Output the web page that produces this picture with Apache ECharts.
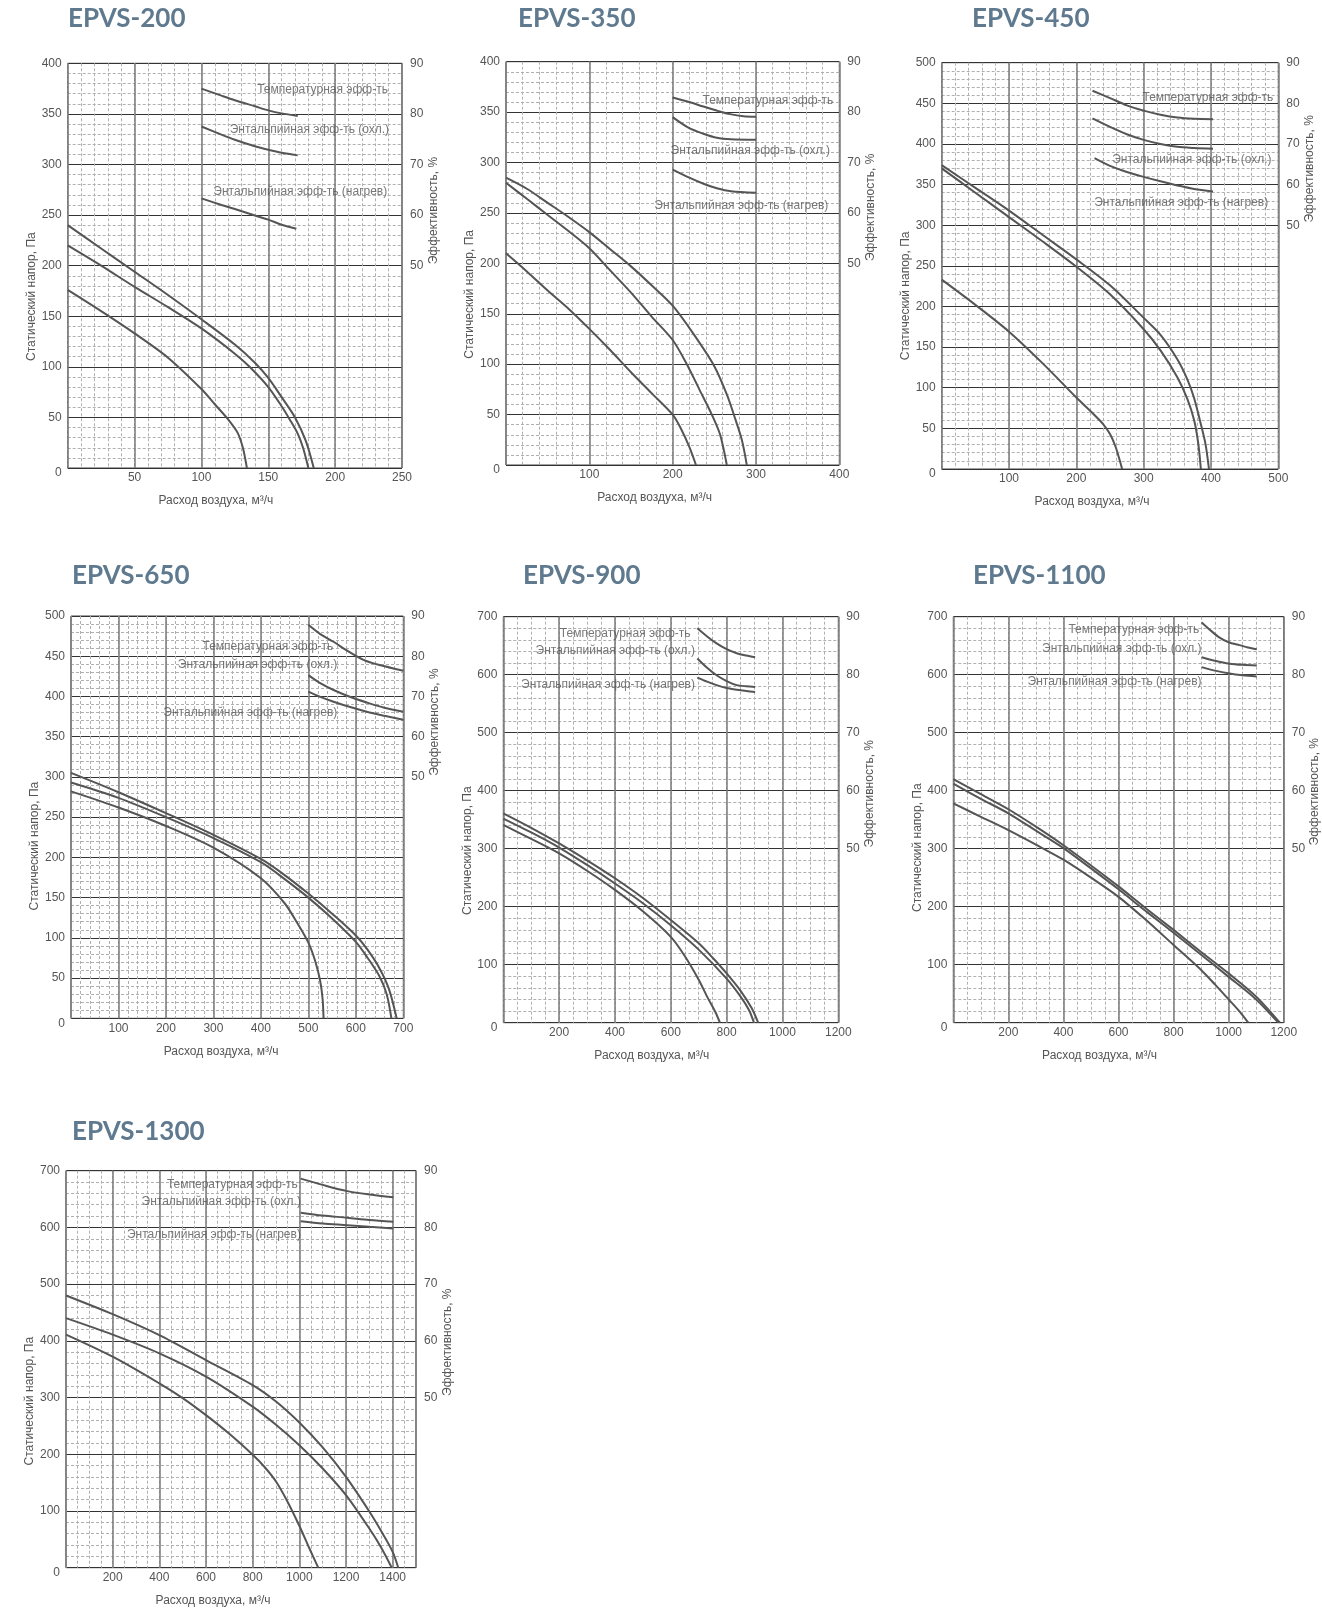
<!DOCTYPE html>
<html><head><meta charset="utf-8">
<script src="https://cdn.jsdelivr.net/npm/echarts@6/dist/echarts.min.js"></script>
<style>html,body{margin:0;padding:0;background:#fff}#c{width:1322px;height:1608px}</style>
</head><body><div id="c"></div>
<script>
// ---------- DATA ----------
const TITLES = ['EPVS-200','EPVS-350','EPVS-450','EPVS-650','EPVS-900','EPVS-1100','EPVS-1300'];
const ANN_TEXT = ['Температурная эфф-ть','Энтальпийная эфф-ть (охл.)','Энтальпийная эфф-ть (нагрев)'];
const X_NAME = 'Расход воздуха, м³/ч';
const Y_NAME = 'Статический напор, Па';
const R_NAME = 'Эффективность, %';

// EPVS-200  [air flow m3/h, static pressure Pa]
const FAN_200_A = [[0,240],[25,217],[50,194],[75,171],[100,147],[125,122],[140,104],[150,89],[160,70],[170,50],[178,27],[184,0]];
const FAN_200_B = [[0,220],[25,200],[50,179],[75,159],[100,138],[125,113],[136,100],[150,80],[160,61],[166,48],[172,34],[176,20],[180,0]];
const FAN_200_C = [[0,176],[25,155],[50,133],[75,109],[100,78],[110,63],[120,48],[127,35],[131,20],[134,0]];
// efficiency [air flow, %]
const EFF_200_T = [[100,85],[115,83.6],[125,82.7],[140,81.5],[150,80.7],[160,80.1],[172,79.6]];
const EFF_200_C = [[100,77.5],[115,75.9],[125,74.9],[140,73.6],[150,72.9],[160,72.3],[172,71.8]];
const EFF_200_H = [[100,63.3],[115,62],[125,61.2],[140,59.9],[150,59.1],[160,58.1],[171,57.3]];

// EPVS-350
const FAN_350_A = [[0,285],[25,274],[50,260],[75,246],[100,231],[125,214],[150,197],[175,178],[200,158],[225,130],[250,98],[265,70],[275,46],[283,25],[289,0]];
const FAN_350_B = [[0,280],[25,264],[50,248],[75,232],[100,215],[125,193],[150,171],[175,147],[200,124],[217,100],[232,75],[247,50],[257,30],[265,0]];
const FAN_350_C = [[0,210],[25,192],[50,173],[75,155],[100,135],[125,114],[150,92],[175,71],[200,50],[210,36],[220,18],[228,0]];
const EFF_350_T = [[200,82.9],[220,82],[237,81.1],[255,80.2],[269,79.6],[285,79.2],[300,79.1]];
const EFF_350_C = [[200,79],[220,76.8],[237,75.7],[253,74.9],[270,74.6],[300,74.5]];
const EFF_350_H = [[200,68.6],[220,67],[237,65.8],[253,64.9],[270,64.3],[300,64]];

// EPVS-450
const FAN_450_A = [[0,374],[50,346],[100,318],[150,288],[200,258],[250,226],[300,186],[325,165],[350,135],[365,110],[375,87],[385,55],[392,30],[397,0]];
const FAN_450_B = [[0,370],[50,340],[100,310],[150,280],[200,249],[250,215],[300,172],[325,146],[350,113],[365,86],[375,60],[381,32],[385,0]];
const FAN_450_C = [[0,233],[50,202],[100,169],[150,130],[200,88],[225,68],[240,55],[250,43],[258,28],[264,12],[268,0]];
const EFF_450_T = [[224,83.1],[250,81.3],[275,79.5],[300,78.2],[325,77.2],[350,76.5],[375,76.2],[403,76.1]];
const EFF_450_C = [[224,76.3],[250,74.2],[275,72.4],[300,71],[325,70],[350,69.3],[375,69],[403,68.8]];
const EFF_450_H = [[227,66.5],[250,64.6],[275,63.1],[300,61.9],[325,60.8],[350,59.8],[375,58.9],[403,58.3]];

// EPVS-650
const FAN_650_A = [[0,305],[100,281],[200,255],[300,228],[400,198],[450,178],[500,155],[550,130],[600,103],[625,85],[650,62],[670,36],[686,0]];
const FAN_650_B = [[0,293],[100,274],[200,250],[300,224],[400,194],[450,173],[500,150],[550,124],[600,95],[625,75],[650,52],[665,30],[675,0]];
const FAN_650_C = [[0,282],[100,262],[200,239],[300,212],[400,174],[450,143],[475,120],[500,94],[515,70],[525,46],[530,24],[532,0]];
const EFF_650_T = [[500,87.8],[525,85.5],[553,83.6],[580,81.5],[616,79.1],[650,77.8],[700,76.4]];
const EFF_650_C = [[500,75.3],[525,73.3],[553,71.6],[590,69.8],[623,68.5],[660,67.2],[700,66.2]];
const EFF_650_H = [[500,71.2],[525,69.9],[553,68.7],[590,67.3],[623,66.2],[660,65.2],[700,64.2]];

// EPVS-900
const FAN_900_A = [[0,361],[100,336],[200,309],[300,280],[400,249],[500,215],[600,177],[700,137],[750,112],[800,85],[850,55],[890,25],[913,0]];
const FAN_900_B = [[0,352],[100,328],[200,302],[300,272],[400,240],[500,206],[600,168],[700,126],[800,76],[850,45],[880,22],[898,0]];
const FAN_900_C = [[0,341],[100,317],[200,292],[300,262],[400,229],[500,192],[600,148],[650,115],[700,74],[730,45],[760,18],[776,0]];
const EFF_900_T = [[695,88],[730,86.6],[764,85.4],[800,84.4],[836,83.7],[870,83.3],[902,83]];
const EFF_900_C = [[695,82.8],[730,81.2],[764,79.9],[800,78.9],[836,78.2],[870,78],[902,77.9]];
const EFF_900_H = [[695,79.5],[730,78.8],[764,78.2],[800,77.7],[836,77.4],[870,77.2],[902,77]];

// EPVS-1100
const FAN_1100_A = [[0,420],[100,394],[200,368],[300,338],[400,306],[500,271],[600,235],[700,197],[800,160],[900,122],[1000,85],[1100,45],[1186,0]];
const FAN_1100_B = [[0,412],[100,386],[200,361],[300,331],[400,301],[500,266],[600,230],[700,192],[800,155],[900,117],[1000,79],[1100,40],[1180,0]];
const FAN_1100_C = [[0,378],[100,355],[200,332],[300,307],[400,281],[500,250],[600,217],[700,177],[800,134],[900,91],[950,66],[1000,40],[1040,19],[1071,0]];
const EFF_1100_T = [[902,89],[935,87.6],[967,86.4],[1000,85.6],[1039,85.1],[1070,84.7],[1102,84.4]];
const EFF_1100_C = [[902,83],[950,82.4],[1003,81.9],[1050,81.7],[1102,81.6]];
const EFF_1100_H = [[902,81.3],[950,80.7],[1003,80.2],[1050,79.9],[1102,79.7]];

// EPVS-1300
const FAN_1300_A = [[0,480],[200,447],[400,410],[600,366],[800,322],[900,293],[1000,256],[1100,212],[1200,160],[1300,99],[1350,65],[1400,28],[1424,0]];
const FAN_1300_B = [[0,440],[200,411],[400,378],[600,337],[800,284],[900,252],[1000,216],[1100,175],[1200,128],[1300,69],[1350,36],[1396,0]];
const FAN_1300_C = [[0,411],[200,372],[400,325],[500,299],[600,269],[700,236],[800,199],[850,178],[900,152],[950,116],[1000,74],[1040,37],[1081,0]];
const EFF_1300_T = [[1006,88.6],[1100,87.5],[1206,86.4],[1300,85.8],[1403,85.3]];
const EFF_1300_C = [[1006,82.6],[1100,82.1],[1206,81.7],[1300,81.3],[1403,81]];
const EFF_1300_H = [[1006,81.1],[1100,80.7],[1206,80.4],[1300,80.1],[1403,79.8]];

// annotation anchors (right end of text) [air flow, Pa]
const ANN_200 = [[239.5,374],[240.4,334],[239,273]];
const ANN_350 = [[392.8,361],[388.8,312],[386.8,257]];
const ANN_450 = [[492.6,457],[490,381],[485,328]];
const ANN_650 = [[552.6,462],[561,439],[561,380]];
const ANN_900 = [[671,671],[686.6,641],[686.6,582]];
const ANN_1100 = [[893,677],[901.5,645],[901.5,588]];
const ANN_1300 = [[993,676],[1007,646],[1007,588]];

// ---------- LAYOUT ----------
const CHARTS = [
  {fan:[FAN_200_A,FAN_200_B,FAN_200_C], eff:[EFF_200_T,EFF_200_C,EFF_200_H], ann:ANN_200,
   g:[67.7,63.3,334.3,404.7], xMax:250, xMaj:50, xMin:10, yMax:400, yMaj:50, yMin:10, effMin:10, t:[68,6], rUp:55, lDown:31, xLeft:19},
  {fan:[FAN_350_A,FAN_350_B,FAN_350_C], eff:[EFF_350_T,EFF_350_C,EFF_350_H], ann:ANN_350,
   g:[506,61.7,333.3,403.3], xMax:400, xMaj:100, xMin:20, yMax:400, yMaj:50, yMin:10, effMin:10, t:[518,6], rUp:56, lDown:31, xLeft:18},
  {fan:[FAN_450_A,FAN_450_B,FAN_450_C], eff:[EFF_450_T,EFF_450_C,EFF_450_H], ann:ANN_450,
   g:[941.7,62.7,336.6,406.3], xMax:500, xMaj:100, xMin:20, yMax:500, yMaj:50, yMin:10, effMin:-10, t:[972,6], rUp:97, lDown:30, xLeft:18},
  {fan:[FAN_650_A,FAN_650_B,FAN_650_C], eff:[EFF_650_T,EFF_650_C,EFF_650_H], ann:ANN_650,
   g:[71,616,332.3,402.3], xMax:700, xMaj:100, xMin:20, yMax:500, yMaj:50, yMin:10, effMin:-10, t:[72,563], rUp:95, lDown:29, xLeft:16},
  {fan:[FAN_900_A,FAN_900_B,FAN_900_C], eff:[EFF_900_T,EFF_900_C,EFF_900_H], ann:ANN_900,
   g:[503.3,616.7,335,406], xMax:1200, xMaj:200, xMin:50, yMax:700, yMaj:100, yMin:20, effMin:20, t:[523,563], rUp:26, lDown:31, xLeft:19},
  {fan:[FAN_1100_A,FAN_1100_B,FAN_1100_C], eff:[EFF_1100_T,EFF_1100_C,EFF_1100_H], ann:ANN_1100,
   g:[953.3,616.7,335,406], xMax:1200, xMaj:200, xMin:50, yMax:700, yMaj:100, yMin:20, effMin:20, t:[973,563], rUp:28, lDown:28, xLeft:19},
  {fan:[FAN_1300_A,FAN_1300_B,FAN_1300_C], eff:[EFF_1300_T,EFF_1300_C,EFF_1300_H], ann:ANN_1300,
   g:[66,1170.7,350,397], xMax:1500, xMaj:200, xMin:50, yMax:700, yMaj:100, yMin:20, effMin:20, t:[72,1119], rUp:27, lDown:32, xLeft:28}
];

const FONT = 'Liberation Sans, Arial, sans-serif';
const TXT = '#555';
const option = {animation:false, backgroundColor:'#fff', title:[], grid:[], xAxis:[], yAxis:[], series:[]};

CHARTS.forEach((c,i)=>{
  option.title.push({text:TITLES[i], left:c.t[0], top:c.t[1], padding:0,
    textStyle:{fontFamily:'Lato, Open Sans, sans-serif', fontWeight:'bold', fontSize:26, color:'#5f7a8f'}});
  option.grid.push({left:c.g[0], top:c.g[1], width:c.g[2], height:c.g[3], show:true,
    borderColor:'#444', borderWidth:1, backgroundColor:'transparent'});
  // minor vertical grid
  option.xAxis.push({gridIndex:i, type:'value', position:'top', min:0, max:c.xMax, interval:c.xMin, silent:true,
    axisLine:{show:false}, axisTick:{show:false}, axisLabel:{show:false},
    splitLine:{show:true, lineStyle:{color:'#b0b0b0', width:1, type:[3,2]}}});
  // major axis
  option.xAxis.push({gridIndex:i, type:'value', position:'bottom', min:0, max:c.xMax, interval:c.xMaj,
    axisLine:{show:false}, axisTick:{show:false},
    axisLabel:{showMinLabel:false, showMaxLabel: c.xMax % c.xMaj === 0, margin:4, color:TXT, fontSize:12, fontFamily:FONT,
      formatter:v=>String(v)},
    splitLine:{show:true, lineStyle:{color:'#7a7a7a', width:1.5}},
    name:X_NAME, nameLocation:'middle', nameGap:27,
    nameTextStyle:{color:TXT, fontSize:12, fontFamily:FONT, padding:[0, 2*c.xLeft, 0, 0]}});
  option.yAxis.push({gridIndex:i, type:'value', position:'left', min:0, max:c.yMax, interval:c.yMaj,
    axisLine:{show:false}, axisTick:{show:false},
    axisLabel:{margin:6, color:TXT, fontSize:12, fontFamily:FONT,
      formatter:v=> v===0 ? '{z|0}' : String(v),
      rich:{z:{padding:[10,0,0,0], color:TXT, fontSize:12, fontFamily:FONT}}},
    splitLine:{show:true, lineStyle:{color:'#333', width:1}},
    minorTick:{show:false, splitNumber:Math.round(c.yMaj/c.yMin)},
    minorSplitLine:{show:true, lineStyle:{color:'#b0b0b0', width:1, type:[3,2]}},
    name:Y_NAME, nameLocation:'middle', nameGap:25,
    nameTextStyle:{color:TXT, fontSize:12, fontFamily:FONT, padding:[0, 2*c.lDown, 0, 0]}});
  option.yAxis.push({gridIndex:i, type:'value', position:'right', min:c.effMin, max:90, interval:10,
    axisLine:{show:false}, axisTick:{show:false}, splitLine:{show:false},
    axisLabel:{margin:8, color:TXT, fontSize:12, fontFamily:FONT, formatter:v=> v>=50 ? String(v) : ''},
    name:R_NAME, nameLocation:'middle', nameGap:22,
    nameTextStyle:{color:TXT, fontSize:12, fontFamily:FONT, padding:[0, 0, 0, 2*c.rUp]}});
  const lineBase = {type:'line', showSymbol:false, smooth:0.3, silent:true,
    lineStyle:{color:'#555', width:2}, xAxisIndex:2*i+1};
  c.fan.forEach(d=> option.series.push(Object.assign({}, lineBase, {yAxisIndex:2*i, data:d})));
  c.eff.forEach(d=> option.series.push(Object.assign({}, lineBase, {yAxisIndex:2*i+1, data:d})));
  option.series.push({type:'scatter', xAxisIndex:2*i+1, yAxisIndex:2*i, data:c.ann, symbolSize:0.1, silent:true,
    itemStyle:{color:'transparent'},
    label:{show:true, position:'left', distance:0, color:TXT, fontSize:12, fontFamily:FONT,
      formatter:p=>ANN_TEXT[p.dataIndex]}});
});

const chart = echarts.init(document.getElementById('c'), null, {renderer:'canvas'});
chart.setOption(option);
</script>
</body></html>
